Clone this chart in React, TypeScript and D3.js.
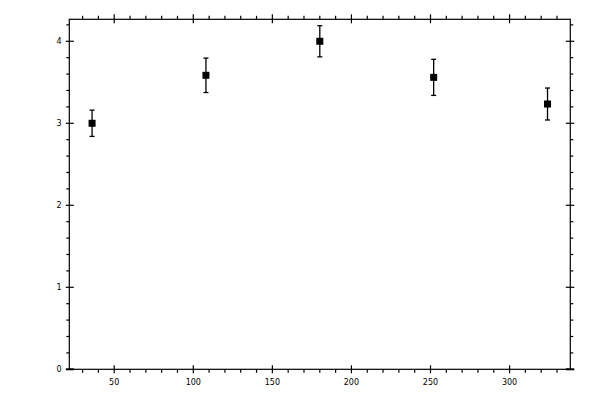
import React from "react";
import * as d3 from "d3";

const xValues = [36, 108, 180, 252, 324];
const yValues = [3.0, 3.585, 4.0, 3.56, 3.235];
const yErrors = [0.16, 0.21, 0.19, 0.22, 0.195];
const xMajorTicks = [50, 100, 150, 200, 250, 300];
const xMinorTicks = d3.range(30, 331, 10).filter((v) => v % 50 !== 0);
const yMajorTicks = [0, 1, 2, 3, 4];
const yMinorTicks = d3.range(1, 22).map((i) => +(i * 0.2).toFixed(1)).filter((v) => Math.abs(v - Math.round(v)) > 1e-6);

const W = 600;
const H = 400;
const left = 69.3;
const right = 570.3;
const top = 19.3;
const bottom = 369.3;

export default function App() {
  const x = d3.scaleLinear().domain([21.6, 338.4]).range([left, right]);
  const y = d3.scaleLinear().domain([0, 4.268]).range([bottom, top]);
  const sw = 1.2;
  const font = "'DejaVu Sans', sans-serif";
  return (
    <svg width={W} height={H} style={{ position: "absolute", left: 0, top: 0, background: "#fff" }}>
      <rect x={0} y={0} width={W} height={H} fill="#fff" />
      <rect x={left} y={top} width={right - left} height={bottom - top} fill="none" stroke="#000" strokeWidth={sw} />
      {/* x ticks bottom & top */}
      {xMinorTicks.map((v) => (
        <g key={"xm" + v}>
          <line x1={x(v)} x2={x(v)} y1={bottom} y2={bottom + 3.5} stroke="#000" strokeWidth={sw} />
          <line x1={x(v)} x2={x(v)} y1={top} y2={top - 3.5} stroke="#000" strokeWidth={sw} />
        </g>
      ))}
      {xMajorTicks.map((v) => (
        <g key={"xM" + v}>
          <line x1={x(v)} x2={x(v)} y1={bottom - 4} y2={bottom + 4} stroke="#000" strokeWidth={sw} />
          <line x1={x(v)} x2={x(v)} y1={top - 5} y2={top + 4} stroke="#000" strokeWidth={sw} />
          <text x={x(v)} y={bottom + 16} fontSize={8} fontFamily={font} textAnchor="middle" fill="#000">
            {v}
          </text>
        </g>
      ))}
      {/* y ticks left & right */}
      {yMinorTicks.map((v) => (
        <g key={"ym" + v}>
          <line x1={left} x2={left - 3} y1={y(v)} y2={y(v)} stroke="#000" strokeWidth={sw} />
          <line x1={right} x2={right + 3} y1={y(v)} y2={y(v)} stroke="#000" strokeWidth={sw} />
        </g>
      ))}
      {yMajorTicks.map((v) => (
        <g key={"yM" + v}>
          <line x1={left - 3.5} x2={left + 4.5} y1={y(v)} y2={y(v)} stroke="#000" strokeWidth={v === 0 ? 2 : sw} />
          <line x1={right - 4.5} x2={right + 4} y1={y(v)} y2={y(v)} stroke="#000" strokeWidth={v === 0 ? 2 : sw} />
          <text x={59} y={y(v) + 3} fontSize={8} fontFamily={font} textAnchor="middle" fill="#000">
            {v}
          </text>
        </g>
      ))}
      {/* data */}
      {xValues.map((xv, i) => {
        const cx = x(xv);
        const cy = y(yValues[i]);
        const yt = y(yValues[i] + yErrors[i]);
        const yb = y(yValues[i] - yErrors[i]);
        return (
          <g key={"p" + i}>
            <line x1={cx} x2={cx} y1={yt} y2={yb} stroke="#000" strokeWidth={1.3} />
            <line x1={cx - 2.5} x2={cx + 2.5} y1={yt} y2={yt} stroke="#000" strokeWidth={1.3} />
            <line x1={cx - 2.5} x2={cx + 2.5} y1={yb} y2={yb} stroke="#000" strokeWidth={1.3} />
            <rect x={cx - 3.5} y={cy - 3.5} width={7} height={7} fill="#000" />
          </g>
        );
      })}
    </svg>
  );
}
